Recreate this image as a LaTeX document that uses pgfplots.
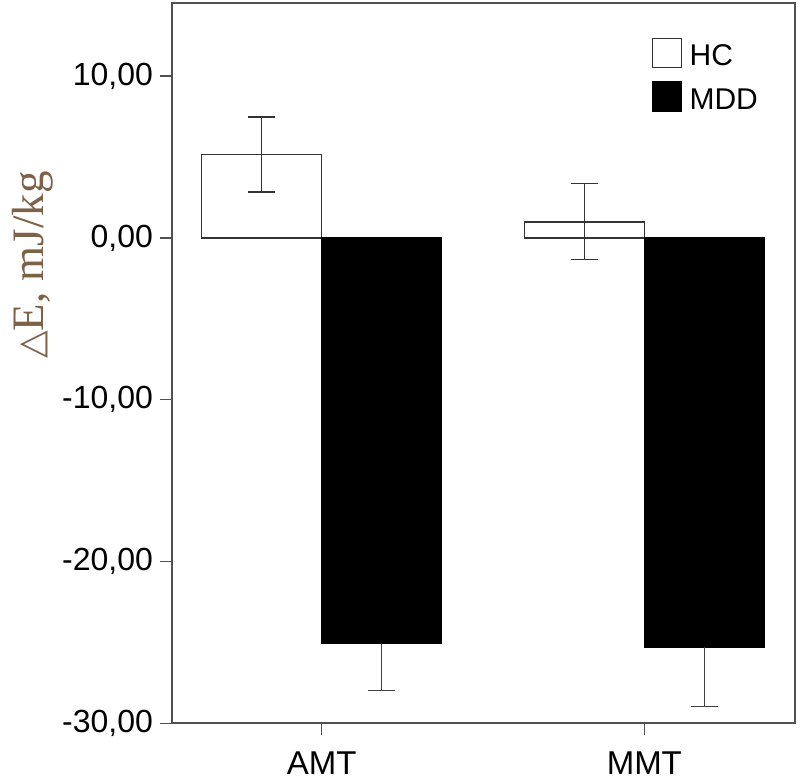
\documentclass[border=0pt]{standalone}
\usepackage{pgfplots}
\pgfplotsset{compat=1.18}
\usepackage{fontspec}
\setmainfont{Liberation Sans}
\newfontfamily\seriffont{Liberation Serif}
\newfontfamily\symfont{DejaVu Sans}
\definecolor{labelbrown}{RGB}{125,98,72}
\definecolor{axisgray}{RGB}{80,80,80}
\begin{document}
\begin{tikzpicture}
\begin{axis}[
  scale only axis, width=311.5bp, height=360bp,
  xmin=-0.464, xmax=1.467, ymin=-30, ymax=14.5,
  axis line style={draw=axisgray, line width=0.85bp},
  tick style={draw=axisgray, line width=0.75bp},
  tick align=outside, major tick length=6bp,
  tick pos=left,
  xtick={0,1}, xticklabels={AMT,MMT},
  ytick={-30,-20,-10,0,10},
  yticklabels={{-30,00},{-20,00},{-10,00},{0,00},{10,00}},
  ticklabel style={font=\fontsize{16bp}{19bp}\selectfont},
  xticklabel style={font=\fontsize{16.5bp}{19bp}\selectfont, yshift=-4.5bp},
  ylabel={{\symfont\fontsize{18bp}{20bp}\selectfont △}E, mJ/kg},
  ylabel style={at={(axis description cs:-0.2055,0.6365)}, anchor=base,
    font=\fontsize{22.5bp}{24bp}\selectfont\seriffont, text=labelbrown},
  ybar, bar width=0.372, bar shift=0pt,
  legend style={at={(axis description cs:0.770,0.952)}, anchor=north west,
    draw=none, fill=none, inner sep=0pt, outer sep=0pt,
    row sep=4.25bp, column sep=1.7bp,
    font=\fontsize{15bp}{18bp}\selectfont,
    cells={anchor=west}},
  legend image code/.code={\draw[#1, line width=0.75bp] (0bp,-5.4bp) rectangle (14.5bp,9.1bp);},
]
\addplot[fill=white, draw=black!80, line width=0.8bp,
  error bars/.cd, y dir=both, y explicit,
  error bar style={black!80, line width=0.7bp},
  error mark options={rotate=90, black!80, line width=0.7bp, mark size=6.75bp}]
  coordinates {(-0.186,5.16) +- (0,2.32) (0.814,1.00) +- (0,2.35)};
\addlegendentry{HC}
\addplot[fill=black, draw=black, line width=0.75bp,
  error bars/.cd, y dir=minus, y explicit,
  error bar style={black!75, line width=0.7bp},
  error mark options={rotate=90, black!75, line width=0.7bp, mark size=6.75bp}]
  coordinates {(0.186,-25.08) +- (0,2.89) (1.186,-25.29) +- (0,3.67)};
\addlegendentry{MDD}
\end{axis}
\path ([xshift=-86bp,yshift=-29.35bp]current axis.south west) rectangle ([xshift=3bp,yshift=1.65bp]current axis.north east);
\end{tikzpicture}
\end{document}
